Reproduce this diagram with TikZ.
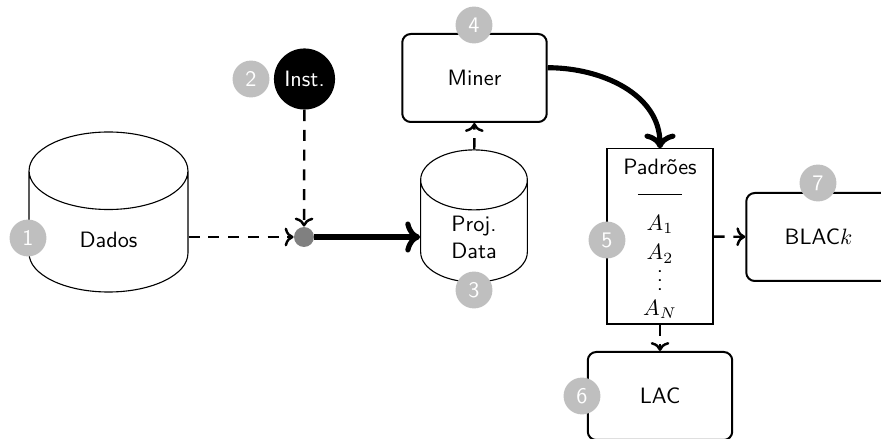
\documentclass[tikz,border=0pt]{standalone}
\usepackage{fontspec}
\usetikzlibrary{shapes.geometric,arrows.meta}
\definecolor{badgegray}{RGB}{191,191,191}
\definecolor{dotgray}{RGB}{128,128,128}
\newcommand\dbtext[1]{\raisebox{-3.7pt}[\height][\depth]{#1}}
\newcommand\dbtwolines[2]{\raisebox{-6.2pt}[0pt][0pt]{\begin{tabular}{@{}c@{}}#1\\#2\end{tabular}}}
\tikzset{
  every node/.style={font=\sffamily},
  db/.style={shape=cylinder, shape border rotate=90, draw, line width=0.5pt,
    anchor=shape center, inner sep=0pt},
  proc/.style={draw, rounded corners=3.8pt, line width=0.9pt,
    minimum width=65pt, minimum height=39.6pt},
  badge/.style={circle, fill=badgegray, text=white, minimum size=16.6pt, inner sep=0pt},
  flow/.style={-{To}, line width=1.1pt, dash pattern=on 5pt off 3.9pt},
  bigflow/.style={-{To}, line width=2.3pt},
}
\begin{document}
\begin{tikzpicture}[x=0.45pt, y=0.45pt]
\useasboundingbox (0,0) rectangle (881,-439);
\clip (0,0) rectangle (881,-439);

% data stores
\node[db, aspect=1.34, minimum width=71.5pt, minimum height=72pt] (dados) at (108.5,-212)
  {\dbtext{Dados}};
\node[db, aspect=1.32, minimum width=48pt, minimum height=59.5pt] (proj) at (474,-216)
  {\dbtwolines{Proj.}{Data}};

% instance source and junction
\node[circle, fill=black, text=white, minimum size=27.5pt, inner sep=0pt] (inst) at (304.5,-79) {Inst.};
\node[circle, fill=dotgray, minimum size=9pt, inner sep=0pt] (junc) at (304,-237) {};

% processing blocks
\node[proc] (miner) at (474.5,-78) {Miner};
\node[draw, line width=0.5pt, minimum width=47.7pt, minimum height=78.8pt, align=center,
      inner sep=0pt] (pad) at (660,-236.5)
  {\rule{0pt}{9.25pt}Padrões\\\rule[2.95pt]{20pt}{0.45pt}\\[0.9pt]$A_1$\\[1.35pt]$A_2$\\[1.8pt]\smash{$\vdots$}\\[-0.9pt]$A_N$};
\node[proc] (blac) at (818.5,-237) {BLAC$k$};
\node[proc] (lac) at (660,-396) {LAC};

% connectors
\draw[flow] (dados.east |- junc) -- (junc);
\draw[flow] (inst) -- (junc);
\draw[bigflow] (junc) -- (junc -| proj.west);
\draw[flow] (proj) -- (miner);
\draw[bigflow] (miner.8.6) to[out=0, in=90] (pad.north);
\draw[flow] (pad) -- (blac);
\draw[flow] (pad) -- (lac);

% step numbers
\node[badge] (b1) at (28,-238) {1};
\node[badge] (b2) at (251,-79) {2};
\node[badge] (b3) at (474,-290) {3};
\node[badge] (b4) at (474,-25) {4};
\node[badge] (b5) at (607,-240) {5};
\node[badge] (b6) at (582,-396) {6};
\node[badge] (b7) at (818,-183) {7};
\end{tikzpicture}
\end{document}
